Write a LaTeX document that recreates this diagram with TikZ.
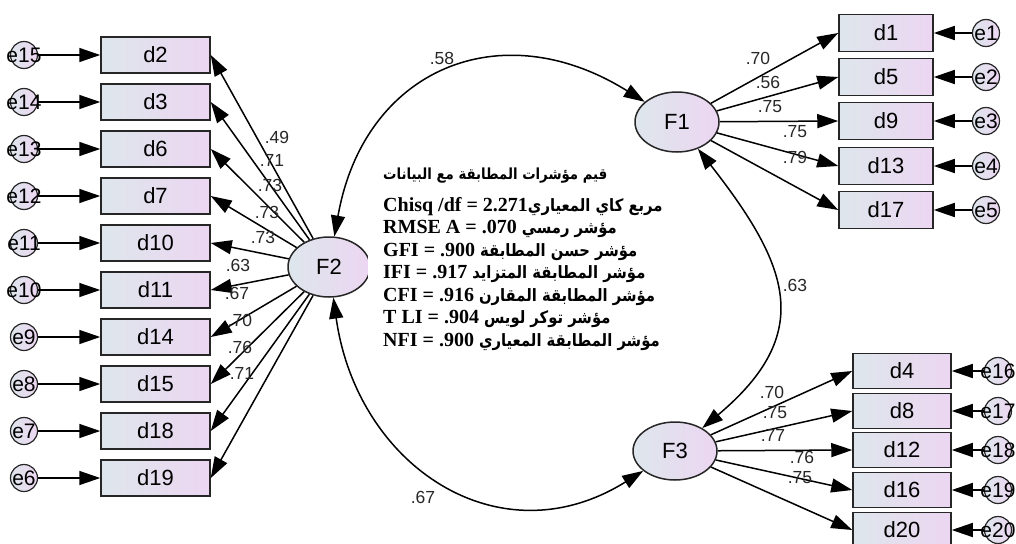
\documentclass[tikz,border=0pt]{standalone}
\usepackage{fontspec}
\setmainfont{Liberation Sans}
\newfontfamily\timesfont{Liberation Serif}
\newfontfamily\arabicnarrow[Script=Arabic,Scale=0.85,FakeStretch=0.87]{DejaVu Sans}
\TeXXeTstate=1
\usetikzlibrary{arrows.meta}
\usetikzlibrary{shapes.geometric}
\definecolor{boxleft}{RGB}{222,230,236}
\definecolor{boxright}{RGB}{236,214,242}
\newcommand{\elab}[1]{\makebox[0pt]{#1}}
\tikzset{
  obs/.style={draw=black!85, line width=1.5pt, minimum width=109pt, minimum height=36pt,
    inner sep=0pt, left color=boxleft, right color=boxright, font=\fontsize{22}{22}\selectfont},
  lat/.style={ellipse, draw=black!85, line width=1.5pt, minimum width=82pt, minimum height=60pt,
    inner sep=0pt, left color=boxleft, right color=boxright, font=\fontsize{22}{22}\selectfont},
  err/.style={circle, draw=black!85, line width=1.2pt, minimum size=27pt, inner sep=0pt,
    left color=boxleft, right color=boxright, font=\fontsize{21}{21}\selectfont},
  load/.style={line width=1.5pt, ->},
  cov/.style={line width=1.5pt, <->},
  coef/.style={inner sep=0pt, text=black!85, font=\fontsize{17.5}{17.5}\selectfont}
}

\begin{document}
\begin{tikzpicture}[x=1pt, y=1pt, >={Triangle[length=21pt,width=14pt]}]
\useasboundingbox (0,0) rectangle (1016,-543);
% F2 and its items
\node[obs] (d2)  at (155.5,-55)  {d2};
\node[obs] (d3)  at (155.5,-102) {d3};
\node[obs] (d6)  at (155.5,-149) {d6};
\node[obs] (d7)  at (155.5,-196) {d7};
\node[obs] (d10) at (155.5,-243) {d10};
\node[obs] (d11) at (155.5,-290) {d11};
\node[obs] (d14) at (155.5,-337) {d14};
\node[obs] (d15) at (155.5,-384) {d15};
\node[obs] (d18) at (155.5,-431) {d18};
\node[obs] (d19) at (155.5,-478) {d19};
\node[err] (e15) at (24,-55)  {\elab{e15}};
\node[err] (e14) at (24,-102) {\elab{e14}};
\node[err] (e13) at (24,-149) {\elab{e13}};
\node[err] (e12) at (24,-196) {\elab{e12}};
\node[err] (e11) at (24,-243) {\elab{e11}};
\node[err] (e10) at (24,-290) {\elab{e10}};
\node[err] (e9)  at (24,-337) {\elab{e9}};
\node[err] (e8)  at (24,-384) {\elab{e8}};
\node[err] (e7)  at (24,-431) {\elab{e7}};
\node[err] (e6)  at (24,-478) {\elab{e6}};
\node[lat] (F2) at (329,-267) {F2};
\draw[load] (e15) -- (d2);
\draw[load] (e14) -- (d3);
\draw[load] (e13) -- (d6);
\draw[load] (e12) -- (d7);
\draw[load] (e11) -- (d10);
\draw[load] (e10) -- (d11);
\draw[load] (e9) -- (d14);
\draw[load] (e8) -- (d15);
\draw[load] (e7) -- (d18);
\draw[load] (e6) -- (d19);
\draw[load] (F2) -- (d2.east);
\draw[load] (F2) -- (d3.east);
\draw[load] (F2) -- (d6.east);
\draw[load] (F2) -- (d7.east);
\draw[load] (F2) -- (d10.east);
\draw[load] (F2) -- (d11.east);
\draw[load] (F2) -- (d14.east);
\draw[load] (F2) -- (d15.east);
\draw[load] (F2) -- (d18.east);
\draw[load] (F2) -- (d19.east);
\node[coef] (ld2)  at (277,-137) {.49};
\node[coef] (ld3)  at (272,-160) {.71};
\node[coef] (ld6)  at (270,-185) {.73};
\node[coef] (ld7)  at (267,-212) {.73};
\node[coef] (ld10) at (263,-237) {.73};
\node[coef] (ld11) at (238,-265) {.63};
\node[coef] (ld14) at (237,-293) {.67};
\node[coef] (ld15) at (240,-320) {.70};
\node[coef] (ld18) at (240,-347) {.76};
\node[coef] (ld19) at (242,-373) {.71};
% F1 and its items
\node[obs, minimum width=94pt, minimum height=37pt] (d1)  at (886,-33)  {d1};
\node[obs, minimum width=94pt, minimum height=37pt] (d5)  at (886,-77)  {d5};
\node[obs, minimum width=94pt, minimum height=37pt] (d9)  at (886,-121) {d9};
\node[obs, minimum width=94pt, minimum height=37pt] (d13) at (886,-166) {d13};
\node[obs, minimum width=94pt, minimum height=37pt] (d17) at (886,-210) {d17};
\node[err] (e1) at (986,-33)  {\elab{e1}};
\node[err] (e2) at (986,-77)  {\elab{e2}};
\node[err] (e3) at (986,-121) {\elab{e3}};
\node[err] (e4) at (986,-166) {\elab{e4}};
\node[err] (e5) at (986,-210) {\elab{e5}};
\node[lat, minimum width=84pt] (F1) at (677,-122) {F1};
\draw[load] (e1) -- (d1);
\draw[load] (e2) -- (d5);
\draw[load] (e3) -- (d9);
\draw[load] (e4) -- (d13);
\draw[load] (e5) -- (d17);
\draw[load] (F1) -- (d1.west);
\draw[load] (F1) -- (d5.west);
\draw[load] (F1) -- (d9.west);
\draw[load] (F1) -- (d13.west);
\draw[load] (F1) -- (d17.west);
\node[coef] (ld1)  at (758,-58)  {.70};
\node[coef] (ld5)  at (768,-82)  {.56};
\node[coef] (ld9)  at (770,-107) {.75};
\node[coef] (ld13) at (795,-132) {.75};
\node[coef] (ld17) at (795,-157) {.79};
% F3 and its items
\node[obs, minimum width=98pt, minimum height=35pt] (d4)  at (902,-371) {d4};
\node[obs, minimum width=98pt, minimum height=35pt] (d8)  at (902,-411) {d8};
\node[obs, minimum width=98pt, minimum height=35pt] (d12) at (902,-450) {d12};
\node[obs, minimum width=98pt, minimum height=35pt] (d16) at (902,-490) {d16};
\node[obs, minimum width=98pt, minimum height=35pt] (d20) at (902,-530) {d20};
\node[err] (e16) at (998,-371) {\elab{e16}};
\node[err] (e17) at (998,-411) {\elab{e17}};
\node[err] (e18) at (998,-450) {\elab{e18}};
\node[err] (e19) at (998,-490) {\elab{e19}};
\node[err] (e20) at (998,-530) {\elab{e20}};
\node[lat, minimum width=84pt, minimum height=58pt] (F3) at (675,-451) {F3};
\draw[load] (e16) -- (d4);
\draw[load] (e17) -- (d8);
\draw[load] (e18) -- (d12);
\draw[load] (e19) -- (d16);
\draw[load] (e20) -- (d20);
\draw[load] (F3) -- (d4.west);
\draw[load] (F3) -- (d8.west);
\draw[load] (F3) -- (d12.west);
\draw[load] (F3) -- (d16.west);
\draw[load] (F3) -- (d20.west);
\node[coef] (ld4)  at (772,-392) {.70};
\node[coef] (ld8)  at (775,-413) {.75};
\node[coef] (ld12) at (773,-435) {.77};
\node[coef] (ld16) at (802,-457) {.76};
\node[coef] (ld20) at (800,-478) {.75};
% correlations
\draw[cov] (F2) to[out=80, in=148, distance=170pt] (F1);
\draw[cov] (F1) to[out=-52, in=40, distance=148pt] (F3);
\draw[cov] (F2) to[out=-82, in=212, distance=170pt] (F3);
\node[coef] (r12) at (442,-58)  {.58};
\node[coef] (r13) at (795,-285) {.63};
\node[coef] (r23) at (423,-497) {.67};
% fit indices
\node[anchor=north west, fill=white, inner xsep=15pt, inner ysep=5pt, align=left,
      font=\fontsize{20}{22.5}\selectfont] (fit) at (368,-163) {%
{\arabicnarrow\bfseries\fontsize{18}{22.5}\selectfont\beginR قيم مؤشرات المطابقة مع البيانات\endR}\\[9pt]
{\timesfont\bfseries Chisq /df = 2.271}{\arabicnarrow\bfseries\beginR مربع كاي المعياري\endR}\\
{\timesfont\bfseries RMSE A = .070 }{\arabicnarrow\bfseries\beginR مؤشر رمسي\endR}\\
{\timesfont\bfseries GFI = .900 }{\arabicnarrow\bfseries\beginR مؤشر حسن المطابقة\endR}\\
{\timesfont\bfseries IFI = .917 }{\arabicnarrow\bfseries\beginR مؤشر المطابقة المتزايد\endR}\\
{\timesfont\bfseries CFI = .916 }{\arabicnarrow\bfseries\beginR مؤشر المطابقة المقارن\endR}\\
{\timesfont\bfseries T LI = .904 }{\arabicnarrow\bfseries\beginR مؤشر توكر لويس\endR}\\
{\timesfont\bfseries NFI = .900 }{\arabicnarrow\bfseries\beginR مؤشر المطابقة المعياري\endR}};
\end{tikzpicture}
\end{document}
